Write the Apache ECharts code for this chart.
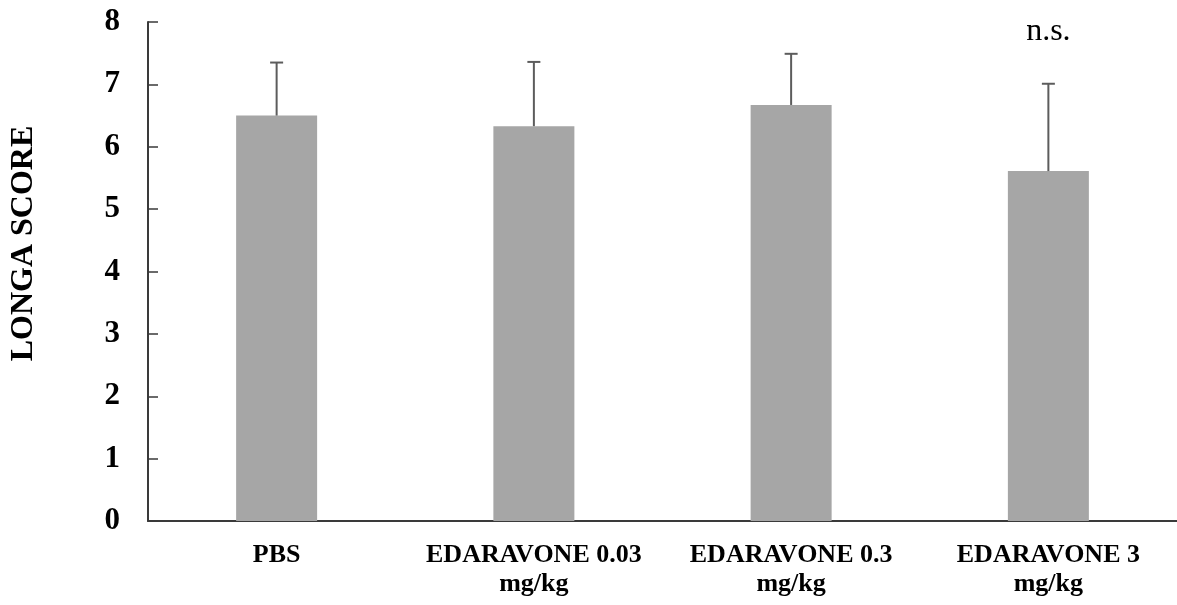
<!DOCTYPE html>
<html>
<head>
<meta charset="utf-8">
<title>LONGA SCORE</title>
<script src="https://cdn.jsdelivr.net/npm/echarts@6/dist/echarts.min.js"></script>
<style>
  html, body { margin: 0; padding: 0; background: #fff; }
  #chart { width: 1177px; height: 605px; }
</style>
</head>
<body>
<div id="chart"></div>
<script>
// Group labels along the x axis
const categories = ['PBS', 'EDARAVONE 0.03\nmg/kg', 'EDARAVONE 0.3\nmg/kg', 'EDARAVONE 3\nmg/kg'];
// Mean LONGA score per group
const means = [6.50, 6.33, 6.67, 5.61];
// Standard deviation (upper whisker only)
const sds = [0.85, 1.03, 0.82, 1.40];
// Significance annotations above each group
const notes = ['', '', '', 'n.s.'];
// Y axis ticks
const yTicks = { min: 0, max: 8, interval: 1 };

const serif = '"Liberation Serif", "Times New Roman", serif';
const axisColor = '#3a3a3a';

const chart = echarts.init(document.getElementById('chart'), null, { renderer: 'canvas' });

const errData = means.map((m, i) => [i, m, m + sds[i], notes[i]]);

chart.setOption({
  backgroundColor: '#ffffff',
  animation: false,
  grid: { left: 143, right: -5, top: 22, bottom: 84, containLabel: false },
  xAxis: {
    type: 'category',
    data: categories,
    boundaryGap: true,
    axisLine: { show: true, lineStyle: { color: axisColor, width: 2 } },
    axisTick: { show: false },
    axisLabel: {
      interval: 0,
      margin: 20,
      fontFamily: serif,
      fontWeight: 'bold',
      fontSize: 26,
      lineHeight: 29,
      color: '#000'
    },
    splitLine: { show: false }
  },
  yAxis: {
    type: 'value',
    min: yTicks.min,
    max: yTicks.max,
    interval: yTicks.interval,
    name: 'LONGA SCORE',
    nameLocation: 'middle',
    nameGap: 108,
    nameRotate: 90,
    nameTextStyle: {
      fontFamily: serif,
      fontWeight: 'bold',
      fontSize: 32,
      color: '#000',
      padding: [0, 0, 0, 56]
    },
    axisLine: { show: true, lineStyle: { color: axisColor, width: 2 } },
    axisTick: { show: true, inside: true, length: 10, lineStyle: { color: axisColor, width: 1.5 } },
    axisLabel: {
      margin: 28,
      fontFamily: serif,
      fontWeight: 'bold',
      fontSize: 31,
      color: '#000'
    },
    splitLine: { show: false }
  },
  series: [
    {
      type: 'bar',
      data: means,
      barWidth: 81,
      itemStyle: { color: '#a6a6a6' },
      z: 2
    },
    {
      type: 'custom',
      data: errData,
      z: 3,
      renderItem: function (params, api) {
        const x = api.value(0);
        const base = api.coord([x, api.value(1)]);
        const top = api.coord([x, api.value(2)]);
        const capHalf = 6.5;
        const lineStyle = { stroke: '#5c5c5c', lineWidth: 2 };
        const children = [
          { type: 'line', shape: { x1: base[0], y1: base[1], x2: top[0], y2: top[1] }, style: lineStyle },
          { type: 'line', shape: { x1: top[0] - capHalf, y1: top[1], x2: top[0] + capHalf, y2: top[1] }, style: lineStyle }
        ];
        const note = api.value(3);
        if (note) {
          children.push({
            type: 'text',
            style: {
              text: note,
              x: top[0],
              y: top[1] - 52,
              align: 'center',
              verticalAlign: 'middle',
              fontFamily: serif,
              fontSize: 32,
              fill: '#000'
            }
          });
        }
        return { type: 'group', children: children };
      }
    }
  ]
});
</script>
</body>
</html>
